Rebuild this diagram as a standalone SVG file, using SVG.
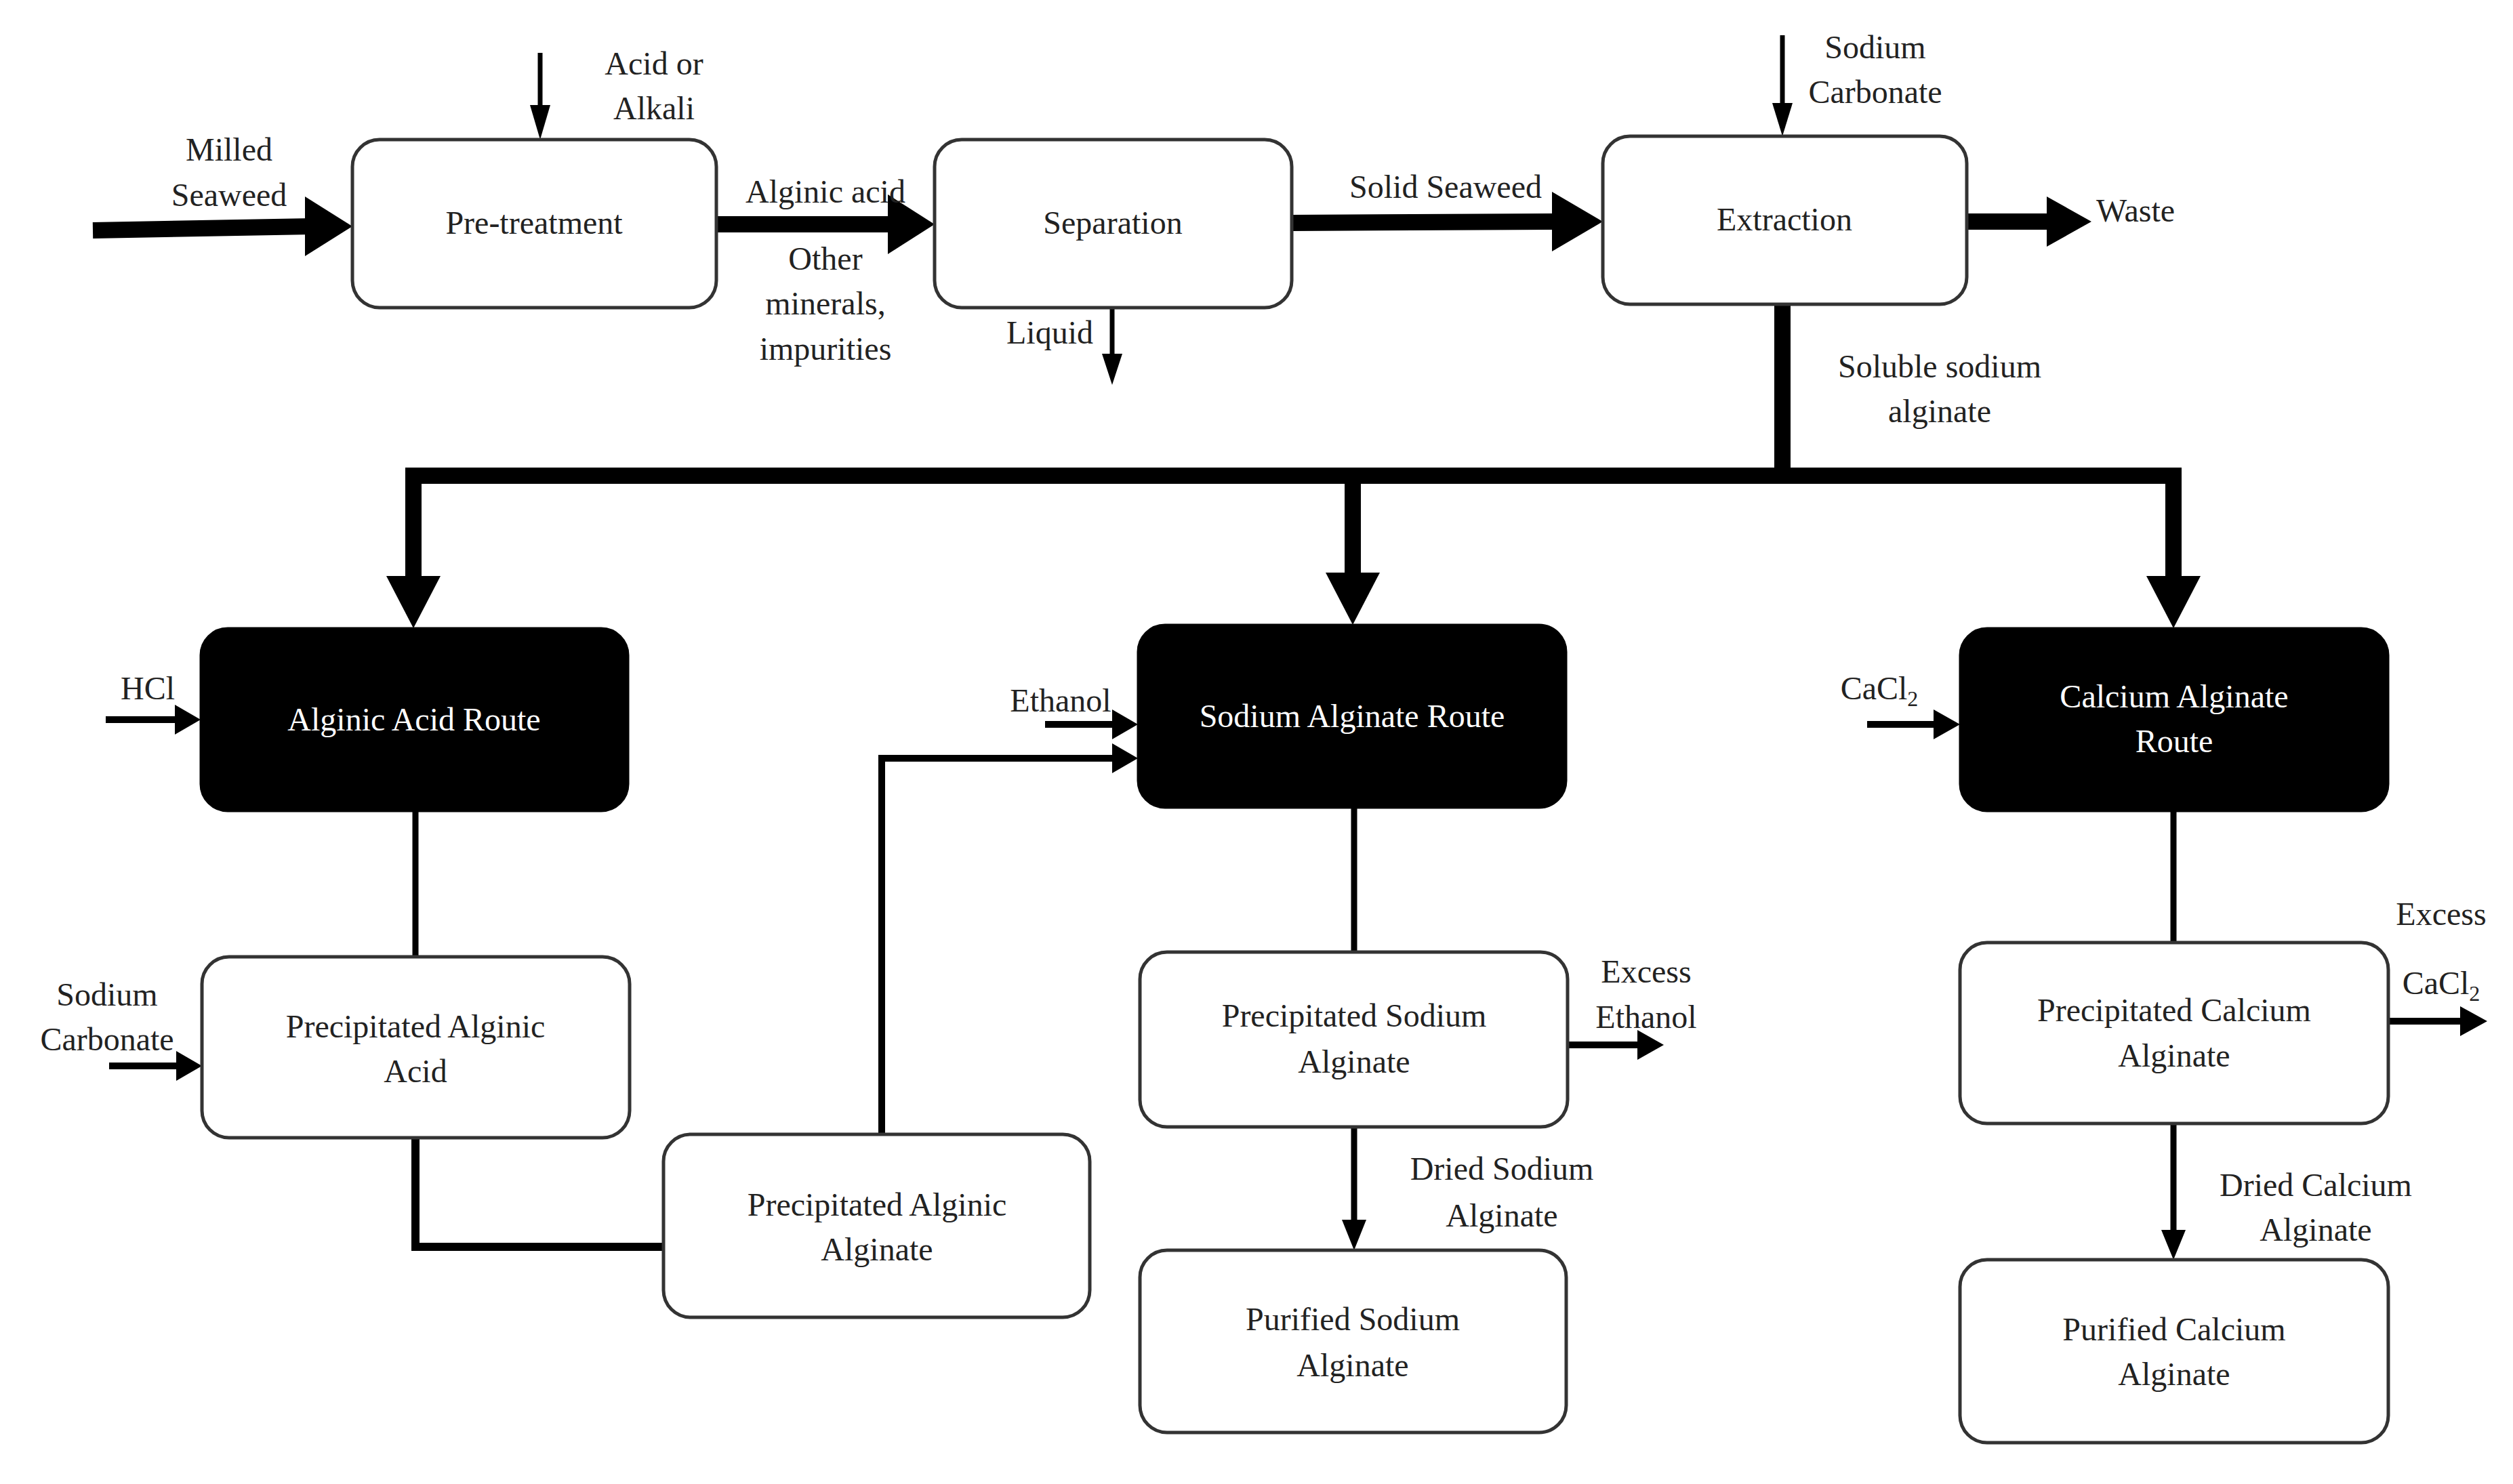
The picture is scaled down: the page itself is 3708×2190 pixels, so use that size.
<svg xmlns="http://www.w3.org/2000/svg" width="3708" height="2190" viewBox="0 0 3708 2190">
<style>
text{font-family:"Liberation Serif",serif;font-size:48px;fill:#222;text-anchor:middle}
.w{fill:#fff;stroke:#333;stroke-width:5}
.b{fill:#000;stroke:#000;stroke-width:3}
.bt{fill:#fff}
.ln{stroke:#000;fill:none}
.h{fill:#000}
</style>
<rect width="3708" height="2190" fill="#fff"/>
<g id="connectors">
<line class="ln" x1="137" y1="340" x2="460" y2="334" stroke-width="24"/><polygon class="h" points="450,290 520,334 450,378"/>
<line class="ln" x1="797" y1="78" x2="797" y2="160" stroke-width="7"/><polygon class="h" points="782,155 812,155 797,206"/>
<line class="ln" x1="1057" y1="331" x2="1320" y2="331" stroke-width="24"/><polygon class="h" points="1310,287 1379,331 1310,375"/>
<line class="ln" x1="1641" y1="454" x2="1641" y2="530" stroke-width="7"/><polygon class="h" points="1626,522 1656,522 1641,568"/>
<line class="ln" x1="1906" y1="329" x2="2300" y2="327" stroke-width="24"/><polygon class="h" points="2290,283 2365,327 2290,371"/>
<line class="ln" x1="2630" y1="52" x2="2630" y2="160" stroke-width="7"/><polygon class="h" points="2615,152 2645,152 2630,201"/>
<line class="ln" x1="2902" y1="327" x2="3030" y2="327" stroke-width="24"/><polygon class="h" points="3020,290 3086,327 3020,364"/>
<polyline class="ln" points="2630,449 2630,702" stroke-width="24"/>
<polyline class="ln" points="598,702 3219,702" stroke-width="24"/>
<line class="ln" x1="610" y1="690" x2="610" y2="860" stroke-width="24"/><polygon class="h" points="570,850 650,850 610,927"/>
<line class="ln" x1="1996" y1="690" x2="1996" y2="855" stroke-width="24"/><polygon class="h" points="1956,845 2036,845 1996,922"/>
<line class="ln" x1="3207" y1="690" x2="3207" y2="860" stroke-width="24"/><polygon class="h" points="3167,850 3247,850 3207,927"/>
<line class="ln" x1="156" y1="1062" x2="260" y2="1062" stroke-width="10"/><polygon class="h" points="258,1040 296,1062 258,1084"/>
<line class="ln" x1="161" y1="1573" x2="262" y2="1573" stroke-width="10"/><polygon class="h" points="260,1551 298,1573 260,1595"/>
<line class="ln" x1="613" y1="1197" x2="613" y2="1412" stroke-width="9"/>
<polyline class="ln" points="613,1679 613,1840 979,1840" stroke-width="12"/>
<polyline class="ln" points="1301,1674 1301,1119 1645,1119" stroke-width="10"/><polygon class="h" points="1641,1097 1679,1119 1641,1141"/>
<line class="ln" x1="1542" y1="1069" x2="1645" y2="1069" stroke-width="10"/><polygon class="h" points="1641,1047 1679,1069 1641,1091"/>
<line class="ln" x1="1998" y1="1192" x2="1998" y2="1405" stroke-width="9"/>
<line class="ln" x1="1998" y1="1663" x2="1998" y2="1805" stroke-width="9"/><polygon class="h" points="1980,1800 2016,1800 1998,1845"/>
<line class="ln" x1="2313" y1="1542" x2="2418" y2="1542" stroke-width="10"/><polygon class="h" points="2416,1520 2455,1542 2416,1564"/>
<line class="ln" x1="2755" y1="1069" x2="2855" y2="1069" stroke-width="10"/><polygon class="h" points="2853,1047 2892,1069 2853,1091"/>
<line class="ln" x1="3207" y1="1197" x2="3207" y2="1391" stroke-width="9"/>
<line class="ln" x1="3207" y1="1658" x2="3207" y2="1820" stroke-width="9"/><polygon class="h" points="3189,1815 3225,1815 3207,1859"/>
<line class="ln" x1="3524" y1="1507" x2="3632" y2="1507" stroke-width="10"/><polygon class="h" points="3630,1485 3670,1507 3630,1529"/>
</g>
<g id="labels">
<text x="338" y="237">Milled</text><text x="338" y="304">Seaweed</text>
<text x="965" y="110">Acid or</text><text x="965" y="176">Alkali</text>
<text x="1218" y="299">Alginic acid</text>
<text x="1218" y="398">Other</text><text x="1218" y="464">minerals,</text><text x="1218" y="531">impurities</text>
<text x="1549" y="507">Liquid</text>
<text x="2133" y="292">Solid Seaweed</text>
<text x="2767" y="86">Sodium</text><text x="2767" y="152">Carbonate</text>
<text x="3093" y="327" style="text-anchor:start">Waste</text>
<text x="2862" y="557">Soluble sodium</text><text x="2862" y="623">alginate</text>
<text x="218" y="1032">HCl</text>
<text x="158" y="1484">Sodium</text><text x="158" y="1550">Carbonate</text>
<text x="1565" y="1050">Ethanol</text>
<text x="2429" y="1450">Excess</text><text x="2429" y="1517">Ethanol</text>
<text x="2216" y="1741">Dried Sodium</text><text x="2216" y="1810">Alginate</text>
<text x="2773" y="1032">CaCl<tspan font-size="32" dy="10">2</tspan></text>
<text x="3602" y="1365">Excess</text>
<text x="3602" y="1467">CaCl<tspan font-size="32" dy="10">2</tspan></text>
<text x="3417" y="1765">Dried Calcium</text><text x="3417" y="1831">Alginate</text>
</g>
<g id="pretreatment"><rect class="w" x="520" y="206" width="537" height="248" rx="40"/><text x="788" y="345">Pre-treatment</text></g>
<g id="separation"><rect class="w" x="1379" y="206" width="527" height="248" rx="40"/><text x="1642" y="345">Separation</text></g>
<g id="extraction"><rect class="w" x="2365" y="201" width="537" height="248" rx="40"/><text x="2633" y="340">Extraction</text></g>
<g id="alginic-route"><rect class="b" x="296" y="927" width="631" height="270" rx="40"/><text class="bt" x="611" y="1078">Alginic Acid Route</text></g>
<g id="sodium-route"><rect class="b" x="1679" y="922" width="632" height="270" rx="40"/><text class="bt" x="1995" y="1073">Sodium Alginate Route</text></g>
<g id="calcium-route"><rect class="b" x="2892" y="927" width="632" height="270" rx="40"/><text class="bt" x="3208" y="1044">Calcium Alginate</text><text class="bt" x="3208" y="1110">Route</text></g>
<g id="precip-alginic-acid"><rect class="w" x="298" y="1412" width="631" height="267" rx="40"/><text x="613" y="1531">Precipitated Alginic</text><text x="613" y="1597">Acid</text></g>
<g id="precip-alginic-alginate"><rect class="w" x="979" y="1674" width="629" height="270" rx="40"/><text x="1294" y="1794">Precipitated Alginic</text><text x="1294" y="1860">Alginate</text></g>
<g id="precip-sodium"><rect class="w" x="1682" y="1405" width="631" height="258" rx="40"/><text x="1998" y="1515">Precipitated Sodium</text><text x="1998" y="1583">Alginate</text></g>
<g id="purified-sodium"><rect class="w" x="1682" y="1845" width="629" height="269" rx="40"/><text x="1996" y="1963">Purified Sodium</text><text x="1996" y="2031">Alginate</text></g>
<g id="precip-calcium"><rect class="w" x="2892" y="1391" width="632" height="267" rx="40"/><text x="3208" y="1507">Precipitated Calcium</text><text x="3208" y="1574">Alginate</text></g>
<g id="purified-calcium"><rect class="w" x="2892" y="1859" width="632" height="270" rx="40"/><text x="3208" y="1978">Purified Calcium</text><text x="3208" y="2044">Alginate</text></g>
</svg>
